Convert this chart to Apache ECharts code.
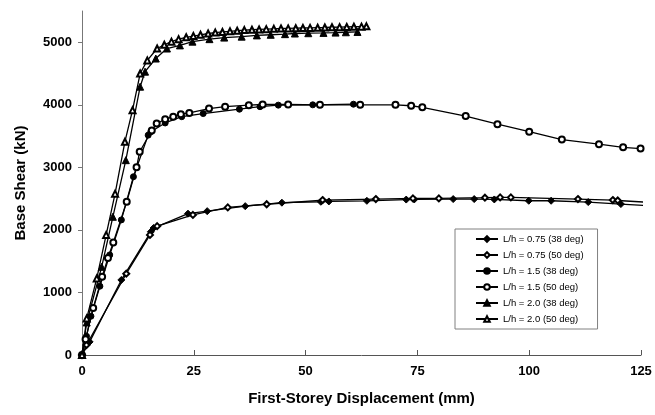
<!DOCTYPE html>
<html>
<head>
<meta charset="utf-8">
<script src="https://cdn.jsdelivr.net/npm/echarts@6/dist/echarts.min.js"></script>
<style>
  html, body { margin: 0; padding: 0; background: #fff; }
  #chart { width: 655px; height: 415px; }
</style>
</head>
<body>
<div id="chart"></div>
<script>
// L/h = 0.75 (38 deg) - filled diamonds
const lh075_38_x = [0, 1.7, 8.8, 15.4, 16.0, 23.7, 28.0, 36.5, 44.7, 53.4, 55.2, 63.7, 72.5, 74.3, 83.0, 87.7, 92.2, 99.9, 104.9, 113.2, 120.5, 127];
const lh075_38_y = [0, 210, 1200, 1970, 2030, 2260, 2300, 2380, 2435, 2450, 2455, 2465, 2485, 2487, 2493, 2493, 2487, 2466, 2466, 2445, 2413, 2385];

// L/h = 0.75 (50 deg) - open diamonds
const lh075_50_x = [0, 1.0, 9.9, 15.2, 16.8, 24.8, 32.6, 41.3, 53.8, 65.7, 74.0, 79.8, 90.1, 93.5, 95.9, 110.9, 118.7, 119.8, 127];
const lh075_50_y = [0, 160, 1300, 1920, 2060, 2240, 2360, 2410, 2477, 2493, 2504, 2504, 2515, 2520, 2520, 2493, 2477, 2470, 2440];

// L/h = 1.5 (38 deg) - filled circles
const lh15_38_x = [0, 1.0, 2.0, 4.0, 6.2, 8.8, 11.5, 14.8, 15.4, 18.6, 22.3, 27.1, 35.2, 39.8, 43.9, 51.6, 60.7];
const lh15_38_y = [0, 300, 620, 1100, 1600, 2160, 2850, 3515, 3570, 3710, 3810, 3860, 3930, 3970, 3995, 4000, 4010];

// L/h = 1.5 (50 deg) - open circles
const lh15_50_x = [0, 0.8, 2.5, 4.5, 5.8, 7.0, 10.0, 12.2, 12.9, 15.6, 16.7, 18.6, 20.4, 22.1, 24.0, 28.4, 32.0, 37.3, 40.4, 46.1, 53.2, 62.2, 70.1, 73.6, 76.1, 85.8, 92.9, 100.0, 107.3, 115.6, 121.0, 124.9];
const lh15_50_y = [0, 250, 750, 1250, 1550, 1800, 2450, 3000, 3250, 3590, 3700, 3770, 3810, 3850, 3870, 3940, 3970, 3995, 4005, 4005, 4000, 4000, 4000, 3985, 3960, 3820, 3690, 3570, 3445, 3370, 3320, 3300];

// L/h = 2.0 (38 deg) - filled triangles
const lh20_38_x = [0, 1.05, 4.4, 6.9, 9.8, 13.0, 14.1, 16.5, 19.0, 21.9, 24.7, 28.5, 31.8, 35.7, 39.1, 42.2, 45.4, 47.6, 50.6, 54.0, 56.7, 59.0, 61.6];
const lh20_38_y = [0, 520, 1410, 2210, 3115, 4290, 4530, 4740, 4900, 4950, 5010, 5050, 5075, 5090, 5110, 5120, 5130, 5140, 5145, 5150, 5155, 5160, 5165];

// L/h = 2.0 (50 deg) - open triangles
const lh20_50_x = [0, 1.05, 3.3, 5.4, 7.4, 9.6, 11.3, 13.0, 14.6, 16.8, 18.4, 20.0, 21.6, 23.3, 24.9, 26.5, 28.2, 29.8, 31.4, 33.1, 34.7, 36.3, 38.0, 39.6, 41.2, 42.9, 44.5, 46.1, 47.8, 49.4, 51.0, 52.7, 54.3, 55.9, 57.6, 59.2, 60.8, 62.5, 63.6];
const lh20_50_y = [0, 585, 1225, 1920, 2580, 3410, 3915, 4500, 4710, 4900, 4960, 5010, 5050, 5080, 5100, 5120, 5140, 5155, 5165, 5175, 5185, 5195, 5200, 5205, 5210, 5215, 5220, 5222, 5225, 5228, 5230, 5233, 5236, 5240, 5242, 5245, 5248, 5250, 5255];

const xTicks = [0, 25, 50, 75, 100, 125];
const yTicks = [0, 1000, 2000, 3000, 4000, 5000];

const zip = (xs, ys) => xs.map((x, i) => [x, ys[i]]);

const chart = echarts.init(document.getElementById('chart'));

const mkSeries = (name, xs, ys, symbol, size) => ({
  name: name,
  type: 'line',
  data: zip(xs, ys),
  symbol: symbol,
  symbolSize: size,
  showAllSymbol: true,
  clip: true,
  lineStyle: { color: '#000', width: 1.3 },
  itemStyle: { color: '#000', borderColor: '#000', borderWidth: 1 },
  emphasis: { disabled: true },
  animation: false,
});

chart.setOption({
  backgroundColor: '#fff',
  animation: false,
  textStyle: { fontFamily: 'Liberation Sans, Arial, sans-serif' },
  grid: { left: 82, right: 14, top: 11, bottom: 60, containLabel: false },
  legend: {
    orient: 'vertical',
    left: 455,
    top: 229,
    padding: [5, 14, 5, 20],
    itemGap: 6,
    itemWidth: 22,
    itemHeight: 7,
    itemTextGap: 2,
    borderColor: '#808080',
    borderWidth: 1,
    backgroundColor: '#fff',
    textStyle: { fontSize: 9.5, color: '#000', fontFamily: 'Liberation Sans, Arial, sans-serif' },
    data: ['L/h = 0.75 (38 deg)', 'L/h = 0.75 (50 deg)', 'L/h = 1.5 (38 deg)', 'L/h = 1.5 (50 deg)', 'L/h = 2.0 (38 deg)', 'L/h = 2.0 (50 deg)'],
  },
  xAxis: {
    type: 'value',
    min: 0,
    max: 125,
    interval: 25,
    name: 'First-Storey Displacement (mm)',
    nameLocation: 'middle',
    nameGap: 36,
    nameTextStyle: { fontSize: 15, fontWeight: 'bold', color: '#000' },
    axisLine: { show: true, onZero: false, lineStyle: { color: '#555', width: 1 } },
    axisTick: { show: true, inside: true, length: 5, customValues: xTicks, lineStyle: { color: '#555' } },
    axisLabel: { customValues: xTicks, fontSize: 13, fontWeight: 'bold', color: '#000', margin: 10, formatter: (v) => String(v) },
    splitLine: { show: false },
  },
  yAxis: {
    type: 'value',
    min: 0,
    max: 5500,
    interval: 1000,
    name: 'Base Shear (kN)',
    nameLocation: 'middle',
    nameGap: 54,
    nameTextStyle: { fontSize: 15, fontWeight: 'bold', color: '#000' },
    axisLine: { show: true, onZero: false, lineStyle: { color: '#777', width: 1 } },
    axisTick: { show: true, inside: false, length: 4, customValues: yTicks, lineStyle: { color: '#777' } },
    axisLabel: { customValues: yTicks, fontSize: 13, fontWeight: 'bold', color: '#000', margin: 10, formatter: (v) => String(v) },
    splitLine: { show: false },
  },
  series: [
    mkSeries('L/h = 0.75 (38 deg)', lh075_38_x, lh075_38_y, 'diamond', 7),
    mkSeries('L/h = 0.75 (50 deg)', lh075_50_x, lh075_50_y, 'emptyDiamond', 6),
    mkSeries('L/h = 1.5 (38 deg)', lh15_38_x, lh15_38_y, 'circle', 6),
    mkSeries('L/h = 1.5 (50 deg)', lh15_50_x, lh15_50_y, 'emptyCircle', 6),
    mkSeries('L/h = 2.0 (38 deg)', lh20_38_x, lh20_38_y, 'triangle', 7),
    mkSeries('L/h = 2.0 (50 deg)', lh20_50_x, lh20_50_y, 'emptyTriangle', 6),
  ],
});

window.addEventListener('resize', () => chart.resize());
</script>
</body>
</html>
